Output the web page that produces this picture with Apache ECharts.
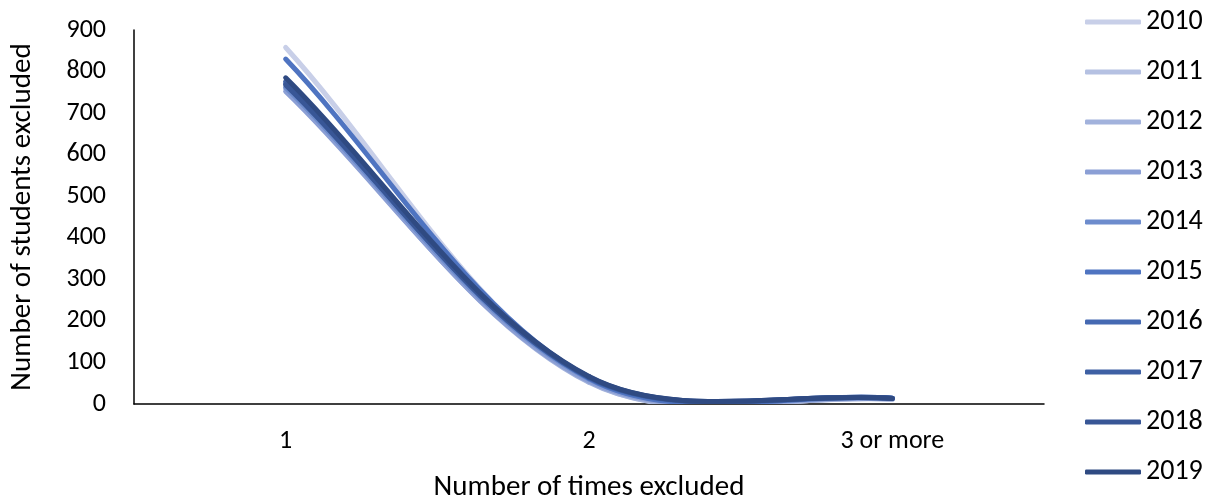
<!DOCTYPE html>
<html>
<head>
<meta charset="utf-8">
<script src="https://cdn.jsdelivr.net/npm/echarts@6/dist/echarts.min.js"></script>
<style>
  html, body { margin: 0; padding: 0; background: #fff; }
  #chart { width: 1214px; height: 498px; }
</style>
</head>
<body>
<div id="chart"></div>
<script>
// Students excluded, by number of times excluded, one line per year
const categories = ['1', '2', '3 or more'];
const years = ['2010', '2011', '2012', '2013', '2014', '2015', '2016', '2017', '2018', '2019'];
const values2010 = [858, 56, 12];
const values2011 = [768, 54, 11];
const values2012 = [758, 52, 12];
const values2013 = [752, 55, 13];
const values2014 = [762, 60, 13];
const values2015 = [830, 62, 14];
const values2016 = [772, 63, 14];
const values2017 = [776, 64, 14];
const values2018 = [768, 65, 13];
const values2019 = [785, 66, 13];
const yTicks = [0, 100, 200, 300, 400, 500, 600, 700, 800, 900];

const seriesValues = [values2010, values2011, values2012, values2013, values2014,
  values2015, values2016, values2017, values2018, values2019];
const colors = ['#c8cfe8', '#b5c1e2', '#a2b2dc', '#8b9fd5', '#6d8ccd',
  '#4f74c1', '#4569b2', '#3e60a4', '#385696', '#2f4a82'];

const font = 'Carlito, "Liberation Sans", "Open Sans", sans-serif';
const TENSION = 1 / 3;

// Smoothed line drawn one Bezier segment per data item. The tangent at each
// point follows its neighbours and is split by the lengths of the two segments.
function smoothSegment(params, api) {
  const vals = seriesValues[params.seriesIndex];
  const i = params.dataIndex;
  const n = vals.length;
  if (i >= n - 1) return null;
  const pt = j => {
    const k = Math.max(0, Math.min(n - 1, j));
    return api.coord([k, vals[k]]);
  };
  const dist = (a, b) => Math.hypot(b[0] - a[0], b[1] - a[1]);
  const p0 = pt(i - 1), p1 = pt(i), p2 = pt(i + 1), p3 = pt(i + 2);

  // outgoing control at p1
  const dA0 = dist(p0, p1), dA1 = dist(p1, p2);
  const fOut = TENSION * dA1 / (dA0 + dA1);
  // incoming control at p2
  const dB0 = dist(p1, p2), dB1 = dist(p2, p3);
  const fIn = TENSION * dB0 / (dB0 + dB1);

  return {
    type: 'bezierCurve',
    shape: {
      x1: p1[0], y1: p1[1],
      x2: p2[0], y2: p2[1],
      cpx1: p1[0] + (p2[0] - p0[0]) * fOut,
      cpy1: p1[1] + (p2[1] - p0[1]) * fOut,
      cpx2: p2[0] - (p3[0] - p1[0]) * fIn,
      cpy2: p2[1] - (p3[1] - p1[1]) * fIn
    },
    style: {
      fill: null,
      stroke: colors[params.seriesIndex],
      lineWidth: 5,
      lineCap: 'round',
      lineJoin: 'round'
    }
  };
}

const chart = echarts.init(document.getElementById('chart'));
chart.setOption({
  animation: false,
  color: colors,
  textStyle: { fontFamily: font },
  grid: { left: 134, right: 170, top: 30, bottom: 94, containLabel: false, outerBoundsMode: 'none' },
  legend: {
    orient: 'vertical',
    left: 1085,
    top: 8,
    padding: 0,
    icon: 'roundRect',
    itemWidth: 56,
    itemHeight: 5,
    itemGap: 22,
    textStyle: { fontSize: 28, color: '#000', fontFamily: font, lineHeight: 28 },
    data: years
  },
  xAxis: {
    type: 'category',
    data: categories,
    boundaryGap: true,
    axisLine: { lineStyle: { color: '#000', width: 1.5 } },
    axisTick: { show: false },
    axisLabel: { fontSize: 26, color: '#000', margin: 24, fontFamily: font },
    name: 'Number of times excluded',
    nameLocation: 'middle',
    nameGap: 69,
    nameTextStyle: { fontSize: 29, color: '#000', fontFamily: font }
  },
  yAxis: {
    type: 'value',
    min: yTicks[0],
    max: yTicks[yTicks.length - 1],
    interval: 100,
    axisLine: { show: true, lineStyle: { color: '#000', width: 1.5 } },
    axisTick: { show: false },
    splitLine: { show: false },
    axisLabel: { fontSize: 26, color: '#000', margin: 28, fontFamily: font },
    name: 'Number of students excluded',
    nameLocation: 'middle',
    nameGap: 97,
    nameTextStyle: { fontSize: 29, color: '#000', fontFamily: font }
  },
  series: years.map((y, i) => ({
    name: y,
    type: 'custom',
    renderItem: smoothSegment,
    clip: true,
    encode: { x: 0, y: 1 },
    data: seriesValues[i].map((v, j) => [j, v]),
    itemStyle: { color: colors[i] }
  }))
});
</script>
</body>
</html>
